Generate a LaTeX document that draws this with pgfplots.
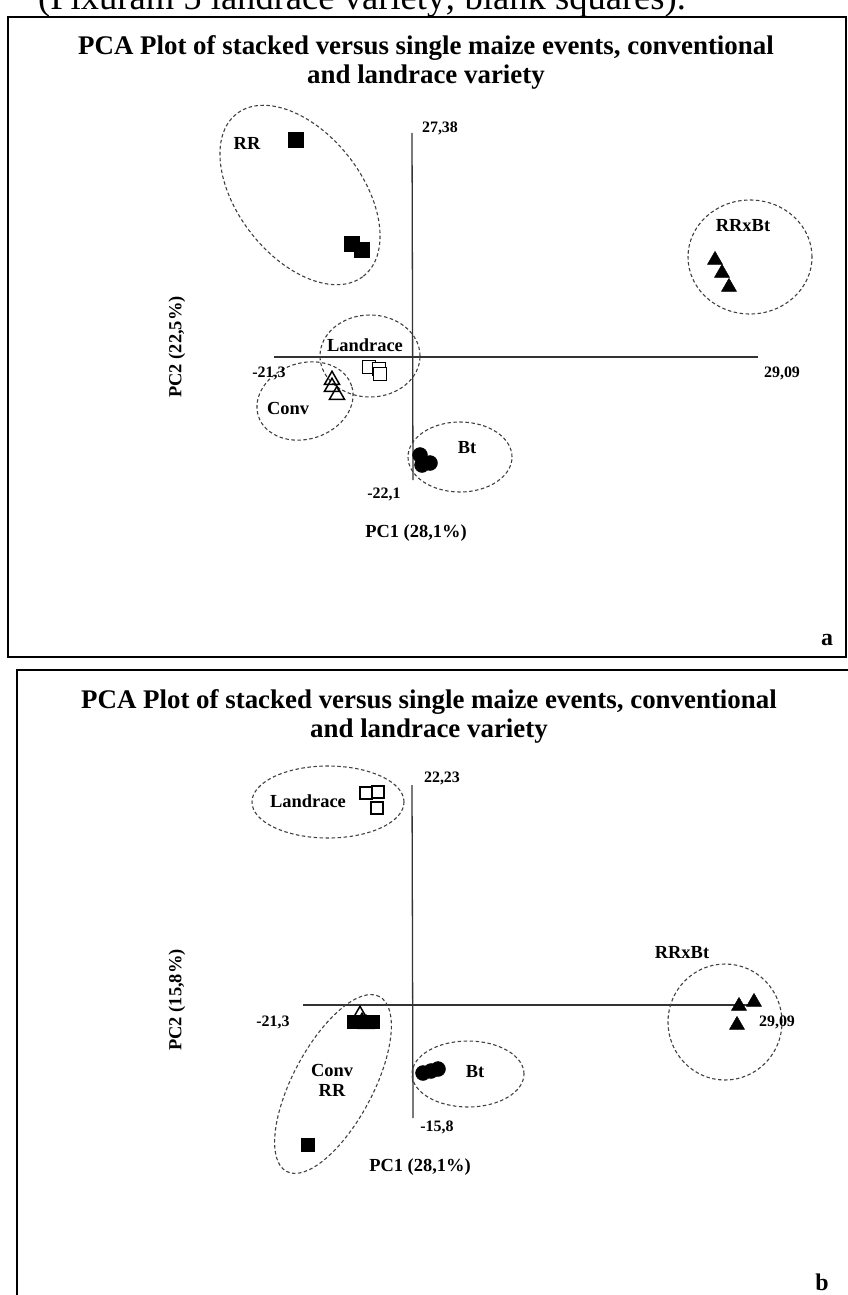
\documentclass[border=0pt]{standalone}
\usepackage{pgfplots}
\pgfplotsset{compat=1.18}
\usepackage{fontspec}
\setmainfont{Liberation Serif}
\begin{document}
\begin{tikzpicture}
\tikzset{
  lab/.style={font=\fontsize{18.5}{20}\selectfont\bfseries},
  num/.style={font=\fontsize{16}{18}\selectfont\bfseries},
  ell/.style={draw=black!75, dash pattern=on 3.5bp off 2.5bp, line width=1.1bp},
  ttl/.style={font=\fontsize{27}{30}\selectfont\bfseries, anchor=base, inner sep=0pt},
}
\pgfplotsset{panel/.style={hide axis, clip=false, x=10bp, y=10bp, xmin=-41.2, xmax=43.6, anchor=south west}}
\useasboundingbox (0bp,0bp) rectangle (848bp,-1295bp);
\begin{scope}
\clip (0bp,0bp) rectangle (848bp,-1295bp);

% ---------------- Panel a ----------------
\begin{axis}[panel, ymin=-30.3, ymax=35.7, at={(0bp,-660bp)}]
\node[font=\fontsize{36.7}{40}\selectfont, anchor=base west, inner sep=0pt] at (axis cs:-37.4,34.75) {(Pixuram 5 landrace variety; blank squares).};
\draw[line width=2.5bp] (axis cs:-40.4,34.0) rectangle (axis cs:43.4,-30.0);
\node[ttl] at (axis cs:1.4,30.2) {PCA Plot of stacked versus single maize events, conventional};
\node[ttl] at (axis cs:1.4,27.3) {and landrace variety};
% axis lines
\addplot[black!80, line width=1.3bp] coordinates {(-13.8,0) (34.6,0)};
\addplot[black!80, line width=1.3bp] coordinates {(0,22.4) (0.1,-12.3)};
% ellipses
\draw[ell] (axis cs:-11.2,16.2) circle [x radius=103bp, y radius=62bp, rotate=-52];
\draw[ell] (axis cs:-4.2,0.1) circle [x radius=50bp, y radius=41bp];
\draw[ell] (axis cs:-10.7,-4.4) circle [x radius=49bp, y radius=38bp, rotate=18];
\draw[ell] (axis cs:4.8,-10.0) circle [x radius=52bp, y radius=35bp];
\draw[ell] (axis cs:33.8,10.0) circle [x radius=62bp, y radius=57bp];
% RR
\addplot[only marks, mark=square*, mark size=7.5bp, black] coordinates {(-11.6,21.7) (-6.0,11.3) (-5.0,10.7)};
% Landrace
\addplot[only marks, mark=square*, mark size=6.5bp, draw=black, fill=white, mark options={line width=1.5bp}] coordinates {(-4.3,-1.0) (-3.3,-1.2) (-3.2,-1.7)};
% Conv
\addplot[only marks, mark=triangle, mark size=8.7bp, black, mark options={line width=1.5bp}] coordinates {(-8.0,-2.3) (-8.0,-3.0) (-7.5,-3.8)};
% Bt
\addplot[only marks, mark=*, mark size=7.5bp, black] coordinates {(0.8,-9.8) (1.8,-10.6) (1.0,-10.8)};
% RRxBt
\addplot[only marks, mark=triangle*, mark size=8.7bp, black] coordinates {(30.3,9.7) (31.0,8.4) (31.7,7.0)};
% labels
\node[lab] at (axis cs:-16.5,21.4) {RR};
\node[num] at (axis cs:2.8,22.9) {27,38};
\node[lab] at (axis cs:-4.7,1.2) {Landrace};
\node[num] at (axis cs:-14.3,-1.6) {-21,3};
\node[lab] at (axis cs:-12.4,-5.1) {Conv};
\node[lab] at (axis cs:5.5,-9.1) {Bt};
\node[num] at (axis cs:-2.8,-13.7) {-22,1};
\node[lab] at (axis cs:0.4,-17.6) {PC1 (28,1\%)};
\node[lab, rotate=90] at (axis cs:-23.5,1.0) {PC2 (22,5\%)};
\node[lab] at (axis cs:33.1,13.1) {RRxBt};
\node[num] at (axis cs:37.0,-1.6) {29,09};
\node[font=\fontsize{24}{26}\selectfont\bfseries] at (axis cs:41.5,-28.3) {a};
\end{axis}

% ---------------- Panel b ----------------
\begin{axis}[panel, ymin=-29.0, ymax=34.5, at={(0bp,-1295bp)}]
\draw[line width=2.5bp] (axis cs:-39.5,33.5) rectangle (axis cs:45.8,-31.5);
\node[ttl] at (axis cs:1.7,29.7) {PCA Plot of stacked versus single maize events, conventional};
\node[ttl] at (axis cs:1.7,26.8) {and landrace variety};
% axis lines
\addplot[black!80, line width=1.3bp] coordinates {(-10.9,0) (33.6,0)};
\addplot[black!80, line width=1.3bp] coordinates {(0,22.0) (0.1,-11.3)};
% ellipses
\draw[ell] (axis cs:-8.4,20.3) circle [x radius=76bp, y radius=36bp];
\draw[ell] (axis cs:-7.9,-7.9) circle [x radius=99bp, y radius=40bp, rotate=62];
\draw[ell] (axis cs:5.6,-6.9) circle [x radius=56bp, y radius=33bp];
\draw[ell] (axis cs:31.3,-1.7) circle [x radius=57bp, y radius=58bp];
% Landrace
\addplot[only marks, mark=square*, mark size=6bp, draw=black, fill=white, mark options={line width=1.5bp}] coordinates {(-4.6,21.2) (-3.4,21.3) (-3.5,19.7)};
% RR
\addplot[only marks, mark=square*, mark size=6.5bp, black] coordinates {(-5.85,-1.65) (-4.9,-1.65) (-3.95,-1.65) (-10.4,-14.0)};
% Conv
\addplot[only marks, mark=triangle, mark size=8.7bp, black, mark options={line width=1.5bp}] coordinates {(-5.2,-1.0) (-5.0,-1.7) (-4.6,-1.9)};
% Bt
\addplot[only marks, mark=*, mark size=7.5bp, black] coordinates {(1.1,-6.8) (1.9,-6.6) (2.6,-6.4)};
% RRxBt
\addplot[only marks, mark=triangle*, mark size=8.7bp, black] coordinates {(32.7,-0.1) (34.2,0.3) (32.5,-2.0)};
% labels
\node[lab] at (axis cs:-10.4,20.4) {Landrace};
\node[num] at (axis cs:3.0,22.7) {22,23};
\node[num] at (axis cs:-13.9,-1.7) {-21,3};
\node[lab] at (axis cs:-8.0,-6.5) {Conv};
\node[lab] at (axis cs:-8.0,-8.5) {RR};
\node[lab] at (axis cs:6.3,-6.7) {Bt};
\node[num] at (axis cs:2.5,-12.2) {-15,8};
\node[lab] at (axis cs:0.8,-16.2) {PC1 (28,1\%)};
\node[lab, rotate=90] at (axis cs:-23.5,0.5) {PC2 (15,8\%)};
\node[lab] at (axis cs:27.0,5.2) {RRxBt};
\node[num] at (axis cs:36.5,-1.7) {29,09};
\node[font=\fontsize{24}{26}\selectfont\bfseries] at (axis cs:41.0,-27.7) {b};
\end{axis}
\end{scope}
\end{tikzpicture}
\end{document}
